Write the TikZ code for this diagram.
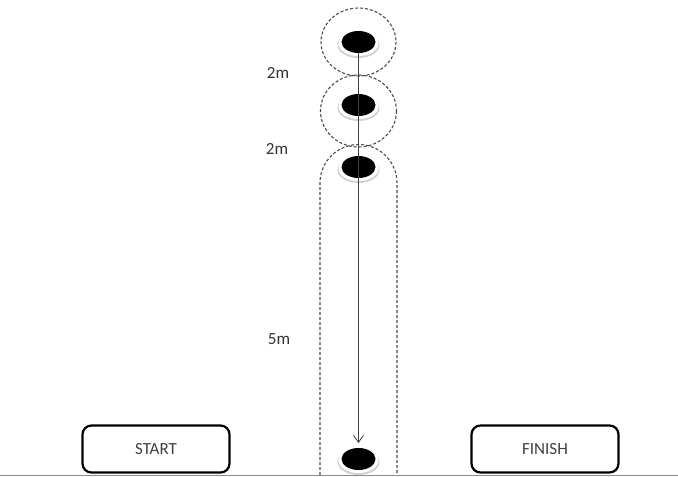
\documentclass[tikz,border=0pt]{standalone}
\usepackage{fontspec}
\setmainfont{Carlito}
\usetikzlibrary{arrows.meta,shapes.geometric}
\begin{document}
\begin{tikzpicture}[x=1pt,y=-1pt,
  zone/.style={draw=black!70,line width=1.1pt,dash pattern=on 3pt off 2pt},
  cone/.style={fill=black},
  halo/.style={fill=black!18},
  lbl/.style={font=\fontsize{17}{17}\selectfont,text=black!80},
  endbox/.style={draw=black,line width=2.2pt,rounded corners=9pt,minimum width=147pt,minimum height=47pt,font=\fontsize{17}{17}\selectfont,text=black!75}]
\useasboundingbox (0,0) rectangle (678,477);
\fill[white] (0,0) rectangle (678,477);
% baseline
\draw[black!45,line width=0.8pt] (0,475.5) -- (678,475.5);
% dashed zones
\draw[zone] (358.5,42) ellipse [x radius=37.5,y radius=34];
\draw[zone] (358.5,111) ellipse [x radius=38,y radius=36];
\draw[zone] (320,475) -- (320,183) arc[start angle=180,end angle=360,radius=38.5] -- (397,475);
% cones
\foreach \n/\yy in {c1/42,c2/105,c3/167,c4/459}{
  \fill[halo] (358.5,\yy+3) ellipse [x radius=21,y radius=13];
  \fill[white] (358.5,\yy+1.5) ellipse [x radius=20,y radius=12.5];
  \node[cone,ellipse,minimum width=34pt,minimum height=22pt,inner sep=0pt] (\n) at (358.5,\yy) {};
}
% arrow line
\coordinate (tip) at (358.5,443);
\draw[black!75,line width=0.8pt,-{Straight Barb[length=7pt,width=10pt]}] (c1.south) -- (tip);
% labels
\node[lbl] (l1) at (278,73) {2m};
\node[lbl] (l2) at (277,149) {2m};
\node[lbl] (l3) at (279,339) {5m};
% boxes
\node[endbox] (start) at (156,449) {START};
\node[endbox] (finish) at (545,449) {FINISH};
\end{tikzpicture}
\end{document}
